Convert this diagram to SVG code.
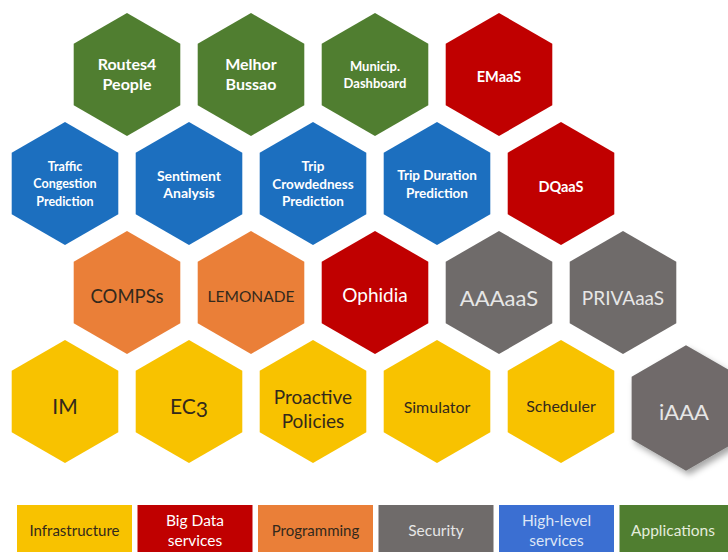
<svg xmlns="http://www.w3.org/2000/svg" xmlns:xlink="http://www.w3.org/1999/xlink" width="728" height="560" viewBox="0 0 728 560">
<style>
text{font-family:Lato,"Open Sans","Liberation Sans",sans-serif;text-anchor:middle;dominant-baseline:central}
.b{font-weight:bold}
.w{fill:#ffffff}
.lt{fill:#e6e6e6}
.dk{fill:#33291c}
.green{fill:#507e30}
.blue{fill:#1c6fbf}
.red{fill:#c00000}
.orange{fill:#ea7f38}
.gray{fill:#6f6b6a}
.yellow{fill:#f8c200}
</style>
<defs>
<path id="hex" d="M0,-61.5 L53.3,-30.75 L53.3,30.75 L0,61.5 L-53.3,30.75 L-53.3,-30.75 Z"/>
<filter id="sh" x="-30%" y="-30%" width="160%" height="160%">
<feDropShadow dx="3" dy="4" stdDeviation="3" flood-color="#000" flood-opacity="0.35"/>
</filter>
</defs>
<rect width="728" height="560" fill="#ffffff"/>
<g id="connectors"/>

<!-- Row 1 -->
<g id="routes4people"><use xlink:href="#hex" class="green" x="127" y="74.5"/>
<text class="b w" x="127" y="63" font-size="16">Routes4</text><text class="b w" x="127" y="83" font-size="16">People</text></g>
<g id="melhorbussao"><use xlink:href="#hex" class="green" x="251" y="74.5"/>
<text class="b w" x="251" y="63" font-size="16">Melhor</text><text class="b w" x="251" y="83" font-size="16">Bussao</text></g>
<g id="municip"><use xlink:href="#hex" class="green" x="375" y="74.5"/>
<text class="b w" x="375" y="65.5" font-size="13">Municip.</text><text class="b w" x="375" y="83" font-size="13">Dashboard</text></g>
<g id="emaas"><use xlink:href="#hex" class="red" x="499" y="74.5"/>
<text class="b w" x="499" y="76" font-size="14.5">EMaaS</text></g>

<!-- Row 2 -->
<g id="traffic"><use xlink:href="#hex" class="blue" x="65" y="183.5"/>
<text class="b w" x="65" y="166" font-size="12.5">Traffic</text><text class="b w" x="65" y="183.5" font-size="12.5">Congestion</text><text class="b w" x="65" y="201" font-size="12.5">Prediction</text></g>
<g id="sentiment"><use xlink:href="#hex" class="blue" x="189" y="183.5"/>
<text class="b w" x="189" y="175" font-size="14">Sentiment</text><text class="b w" x="189" y="192.5" font-size="14">Analysis</text></g>
<g id="tripcrowd"><use xlink:href="#hex" class="blue" x="313" y="183.5"/>
<text class="b w" x="313" y="166" font-size="13.5">Trip</text><text class="b w" x="313" y="183.5" font-size="13.5">Crowdedness</text><text class="b w" x="313" y="201" font-size="13.5">Prediction</text></g>
<g id="tripduration"><use xlink:href="#hex" class="blue" x="437" y="183.5"/>
<text class="b w" x="437" y="175" font-size="13.5">Trip Duration</text><text class="b w" x="437" y="192.5" font-size="13.5">Prediction</text></g>
<g id="dqaas"><use xlink:href="#hex" class="red" x="561" y="183.5"/>
<text class="b w" x="561" y="186.5" font-size="14.5">DQaaS</text></g>

<!-- Row 3 -->
<g id="compss"><use xlink:href="#hex" class="orange" x="127" y="292.5"/>
<text class="dk" x="127" y="296" font-size="18.5">COMPSs</text></g>
<g id="lemonade"><use xlink:href="#hex" class="orange" x="251" y="292.5"/>
<text class="dk" x="251" y="296" font-size="15.5">LEMONADE</text></g>
<g id="ophidia"><use xlink:href="#hex" class="red" x="375" y="292.5"/>
<text class="w" x="375" y="294.5" font-size="19">Ophidia</text></g>
<g id="aaaaas"><use xlink:href="#hex" class="gray" x="499" y="292.5"/>
<text class="lt" x="499" y="297.5" font-size="22">AAAaaS</text></g>
<g id="privaaas"><use xlink:href="#hex" class="gray" x="623" y="292.5"/>
<text class="lt" x="623" y="297.5" font-size="19">PRIVAaaS</text></g>

<!-- Row 4 -->
<g id="im"><use xlink:href="#hex" class="yellow" x="65" y="401.5"/>
<text class="dk" x="65" y="405" font-size="21">IM</text></g>
<g id="ec3"><use xlink:href="#hex" class="yellow" x="189" y="401.5"/>
<text class="dk" x="189" y="405" font-size="21">EC<tspan dy="3">3</tspan></text></g>
<g id="proactive"><use xlink:href="#hex" class="yellow" x="313" y="401.5"/>
<text class="dk" x="313" y="396" font-size="19">Proactive</text><text class="dk" x="313" y="420" font-size="19">Policies</text></g>
<g id="simulator"><use xlink:href="#hex" class="yellow" x="437" y="401.5"/>
<text class="dk" x="437" y="406" font-size="16">Simulator</text></g>
<g id="scheduler"><use xlink:href="#hex" class="yellow" x="561" y="401.5"/>
<text class="dk" x="561" y="405" font-size="16">Scheduler</text></g>
<g id="iaaa"><use xlink:href="#hex" class="gray" x="686" y="408" filter="url(#sh)" transform="translate(686 408) scale(1.02) translate(-686 -408)"/>
<text class="lt" x="684" y="411.5" font-size="22">iAAA</text></g>

<!-- Legend -->
<g id="legend-infrastructure"><rect x="17" y="505" width="115" height="47" class="yellow"/>
<text class="dk" x="74.5" y="530" font-size="15">Infrastructure</text></g>
<g id="legend-bigdata"><rect x="137.5" y="505" width="115" height="47" class="red"/>
<text class="w" x="195" y="520" font-size="15.5">Big Data</text><text class="w" x="195" y="540" font-size="15.5">services</text></g>
<g id="legend-programming"><rect x="258" y="505" width="115" height="47" class="orange"/>
<text class="dk" x="315.5" y="530" font-size="15">Programming</text></g>
<g id="legend-security"><rect x="378.5" y="505" width="115" height="47" class="gray"/>
<text class="lt" x="436" y="530" font-size="15.5">Security</text></g>
<g id="legend-highlevel"><rect x="499" y="505" width="115" height="47" fill="#3b6fd2"/>
<text fill="#dde6f6" x="556.5" y="520" font-size="15.5">High-level</text><text fill="#dde6f6" x="556.5" y="540" font-size="15.5">services</text></g>
<g id="legend-applications"><rect x="619.5" y="505" width="115" height="47" class="green"/>
<text fill="#e4ecdc" x="673" y="530" font-size="15.5">Applications</text></g>
</svg>
